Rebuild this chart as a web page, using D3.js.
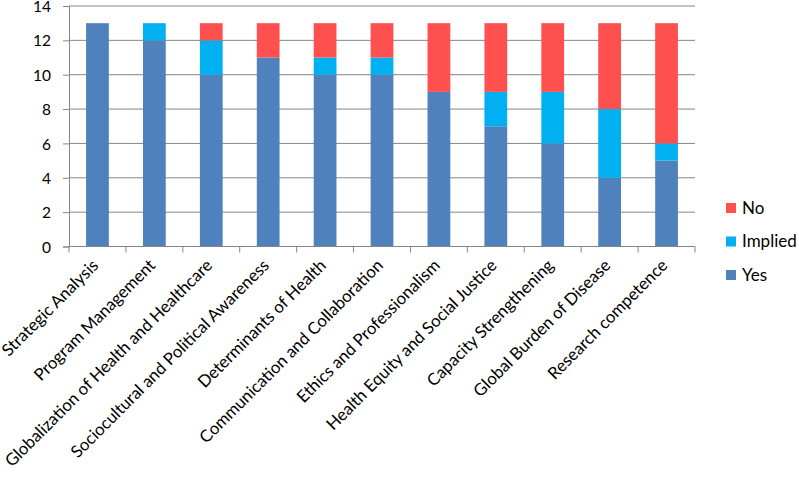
<!DOCTYPE html>
<html><head><meta charset="utf-8">
<script src="https://cdn.jsdelivr.net/npm/d3@7"></script>
<style>body{margin:0;background:#fff}svg{display:block}text{font-family:Lato,"Open Sans",sans-serif;fill:#000}</style>
</head><body>
<svg id="c" width="799" height="479"></svg>
<script>
const categories = ["Strategic Analysis","Program Management","Globalization of Health and Healthcare","Sociocultural and Political Awareness","Determinants of Health","Communication and Collaboration","Ethics and Professionalism","Health Equity and Social Justice","Capacity Strengthening","Global Burden of Disease","Research competence"];
const yes     = [13,12,10,11,10,10,9,7,6,4,5];
const implied = [0,1,2,0,1,1,0,2,3,4,1];
const no      = [0,0,1,2,2,2,4,4,4,5,7];
const seriesNames = ["Yes","Implied","No"];
const colors = ["#4F81BD","#00B0F0","#FF5050"];
const yTicks = [0,2,4,6,8,10,12,14];

const svg = d3.select("#c");
const m = {l:69, r:695, t:6, b:246.5};
const x = d3.scaleBand().domain(categories).range([m.l,m.r]).paddingInner(0.6).paddingOuter(0.3);
const y = d3.scaleLinear().domain([0,14]).range([m.b,m.t]);

const rows = categories.map((c,i)=>({cat:c, Yes:yes[i], Implied:implied[i], No:no[i]}));
const stack = d3.stack().keys(seriesNames)(rows);

// gridlines
svg.append("g").selectAll("line").data(yTicks.filter(d=>d>0)).join("line")
  .attr("x1",m.l).attr("x2",m.r).attr("y1",d=>y(d)).attr("y2",d=>y(d))
  .attr("stroke","#868686").attr("stroke-width",1);

// bars
svg.append("g").selectAll("g").data(stack).join("g").attr("fill",(d,i)=>colors[i])
  .selectAll("rect").data(d=>d).join("rect")
  .attr("x",d=>x(d.data.cat)).attr("width",x.bandwidth())
  .attr("y",d=>y(d[1])).attr("height",d=>y(d[0])-y(d[1]));

// y axis
const ya = svg.append("g").attr("transform",`translate(${m.l},0)`)
  .call(d3.axisLeft(y).tickValues(yTicks).tickSize(6).tickPadding(12));
ya.select(".domain").attr("stroke","#868686");
ya.selectAll(".tick line").attr("stroke","#868686");
ya.selectAll(".tick text").attr("font-size","15.5px").attr("dy","0.36em").style("font-family","Lato,sans-serif");

// x axis
const xa = svg.append("g");
xa.append("line").attr("x1",m.l).attr("x2",m.r).attr("y1",y(0)).attr("y2",y(0)).attr("stroke","#868686");
xa.selectAll("line.t").data(d3.range(categories.length+1)).join("line").attr("class","t")
  .attr("x1",i=>m.l+i*(m.r-m.l)/categories.length).attr("x2",i=>m.l+i*(m.r-m.l)/categories.length)
  .attr("y1",y(0)).attr("y2",y(0)+6).attr("stroke","#868686");
xa.selectAll("text").data(categories).join("text")
  .attr("transform",d=>`translate(${x(d)+x.bandwidth()/2+2},${y(0)+20}) rotate(-45)`)
  .attr("text-anchor","end").attr("font-size","16.8px").text(d=>d);

// legend
const leg = svg.append("g");
const legOrder = [2,1,0];
legOrder.forEach((si,k)=>{
  const yy = 203 + k*33.5;
  leg.append("rect").attr("x",726).attr("y",yy).attr("width",10).attr("height",10).attr("fill",colors[si]);
  leg.append("text").attr("x",742).attr("y",yy+10.5).attr("font-size","17px").text(seriesNames[si]);
});
</script>
</body></html>
